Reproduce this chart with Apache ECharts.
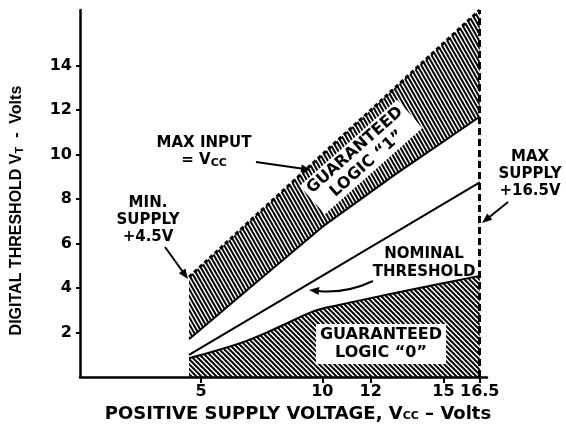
<!DOCTYPE html>
<html>
<head>
<meta charset="utf-8">
<script src="https://cdn.jsdelivr.net/npm/echarts@6/dist/echarts.min.js"></script>
<style>
html, body { margin: 0; padding: 0; background: #fff; }
#chart { width: 566px; height: 428px; }
</style>
</head>
<body>
<div id="chart"></div>
<script>
// guaranteed logic "1" band: lower edge and max input (= Vcc)
const vccPoints = [4.5, 7, 10, 13, 16.5];
const logic1Min = [1.7, 4.0, 6.75, 9.1, 11.7];
const maxInput = [4.5, 7, 10, 13, 16.5];
// guaranteed logic "0" band: upper edge
const logic0Vcc = [4.5, 5.5, 6.7, 7.7, 8.7, 9.4, 9.9, 10.5, 13, 16.5];
const logic0Max = [0.85, 1.15, 1.56, 2.0, 2.5, 2.85, 3.05, 3.2, 3.78, 4.55];
// nominal threshold
const nominalVcc = [4.5, 16.5];
const nominalVt = [1.0, 8.75];
// axes
const xTicks = [5, 10, 12, 15, 16.5];
const yTicks = [2, 4, 6, 8, 10, 12, 14];
const maxSupply = 16.5;

const FONT = '"DejaVu Sans", sans-serif';
const FONT_Y = '"Liberation Sans Narrow", "Liberation Sans", Arial, sans-serif';

function hatch(w, h, lw) {
  const c = document.createElement('canvas');
  c.width = w;
  c.height = h;
  const ctx = c.getContext('2d');
  ctx.strokeStyle = '#000';
  ctx.lineWidth = lw;
  for (let k = -1; k <= 1; k++) {
    ctx.beginPath();
    ctx.moveTo(k * w - w, -h);
    ctx.lineTo(k * w + 2 * w, 2 * h);
    ctx.stroke();
  }
  return c;
}

function zip(xs, ys) {
  return xs.map((x, i) => [x, ys[i]]);
}

function arrowHead(x2, y2, a) {
  const L = 10, W = 4;
  const bx = x2 - L * Math.cos(a), by = y2 - L * Math.sin(a);
  return {
    type: 'polygon', z: 100,
    shape: { points: [[x2, y2], [bx + W * Math.sin(a), by - W * Math.cos(a)], [bx - W * Math.sin(a), by + W * Math.cos(a)]] },
    style: { fill: '#000' }
  };
}

function arrow(x1, y1, x2, y2) {
  const a = Math.atan2(y2 - y1, x2 - x1);
  return [
    { type: 'line', z: 100, shape: { x1: x1, y1: y1, x2: x2 - 8 * Math.cos(a), y2: y2 - 8 * Math.sin(a) }, style: { stroke: '#000', lineWidth: 2 } },
    arrowHead(x2, y2, a)
  ];
}

function label(x, y, text, extra) {
  return {
    type: 'text', x: x, y: y, z: 100,
    style: Object.assign({
      text: text, fill: '#000', font: 'bold 15px ' + FONT,
      align: 'center', verticalAlign: 'middle', lineHeight: 17
    }, extra || {})
  };
}

const subRich = {
  s: { fontFamily: FONT, fontWeight: 'bold', fontSize: 11, color: '#000', padding: [5, 0, 0, 0] }
};

const chart = echarts.init(document.getElementById('chart'));

const graphics = [
  label(148, 220, 'MIN.\nSUPPLY\n+4.5V'),
  label(204, 152, 'MAX INPUT\n= V{s|CC}', { rich: subRich }),
  label(530, 174, 'MAX\nSUPPLY\n+16.5V'),
  label(424, 263, 'NOMINAL\nTHRESHOLD', { lineHeight: 18 }),
  label(381, 344, 'GUARANTEED\nLOGIC \u201C0\u201D', {
    font: 'bold 16px ' + FONT, lineHeight: 18, backgroundColor: '#fff', padding: [2, 4, 2, 4]
  }),
  Object.assign(label(0, 0, 'GUARANTEED\nLOGIC \u201C1\u201D', {
    font: 'bold 16px ' + FONT, lineHeight: 18, backgroundColor: '#fff', padding: [1, 4, 1, 4]
  }), { x: 361, y: 157, rotation: 41.5 * Math.PI / 180 }),
  ...arrow(165, 247, 188, 279),
  ...arrow(256, 162, 311, 170),
  ...arrow(508, 202, 482, 223),
  {
    type: 'bezierCurve', z: 100,
    shape: { x1: 373, y1: 281, cpx1: 345, cpy1: 294, x2: 318, y2: 291 },
    style: { stroke: '#000', lineWidth: 2, fill: null }
  },
  arrowHead(309, 290, Math.atan2(290 - 293, 309 - 340))
];

chart.setOption({
  animation: false,
  backgroundColor: '#fff',
  grid: { left: 80, right: 79, top: 10, bottom: 46 },
  xAxis: {
    type: 'value', min: 0, max: 16.8, z: 10,
    axisLine: { lineStyle: { color: '#000', width: 2.5 } },
    axisTick: { customValues: xTicks, length: 6, lineStyle: { color: '#000', width: 2 } },
    axisLabel: { customValues: xTicks, color: '#000', fontFamily: FONT, fontWeight: 'bold', fontSize: 16, margin: 7 },
    splitLine: { show: false },
    name: 'POSITIVE SUPPLY VOLTAGE, V{s|CC} \u2013 Volts',
    nameLocation: 'middle', nameGap: 24,
    nameTextStyle: { color: '#000', fontFamily: FONT, fontWeight: 'bold', fontSize: 18, padding: [0, 0, 0, 29], rich: subRich }
  },
  yAxis: {
    type: 'value', min: 0, max: 16.5, z: 10,
    axisLine: { lineStyle: { color: '#000', width: 2.5 } },
    axisTick: { customValues: yTicks, length: 4, lineStyle: { color: '#000', width: 2 } },
    axisLabel: { customValues: yTicks, color: '#000', fontFamily: FONT, fontWeight: 'bold', fontSize: 16, margin: 8 },
    splitLine: { show: false },
    name: 'DIGITAL THRESHOLD V{t|T}  -  Volts',
    nameLocation: 'middle', nameGap: 55,
    nameTextStyle: {
      color: '#000', fontFamily: FONT_Y, fontWeight: 'bold', fontSize: 16,
      padding: [0, 34, 0, 0],
      rich: { t: { fontFamily: FONT_Y, fontWeight: 'bold', fontSize: 11, color: '#000', padding: [5, 0, 0, 0] } }
    }
  },
  series: [
    {
      // hatch from max input down, then cleared below the logic "1" minimum
      name: 'Max input', type: 'line', symbol: 'none',
      data: zip(vccPoints, maxInput),
      lineStyle: { color: '#000', width: 3, type: [4, 3] },
      areaStyle: { color: { image: hatch(4, 7, 2), repeat: 'repeat' }, opacity: 1 }
    },
    {
      name: 'Guaranteed logic 1 min', type: 'line', symbol: 'none',
      data: zip(vccPoints, logic1Min),
      lineStyle: { color: '#000', width: 2 },
      areaStyle: { color: '#fff', opacity: 1 }
    },
    {
      name: 'Guaranteed logic 0', type: 'line', symbol: 'none', smooth: 0.3,
      data: zip(logic0Vcc, logic0Max),
      lineStyle: { color: '#000', width: 2 },
      areaStyle: { color: { image: hatch(5, 5, 2), repeat: 'repeat' }, opacity: 1 },
      markLine: {
        silent: true, symbol: 'none', label: { show: false },
        lineStyle: { color: '#000', width: 3, type: [7, 4] },
        data: [{ xAxis: maxSupply }]
      }
    },
    {
      name: 'Nominal threshold', type: 'line', symbol: 'none',
      data: zip(nominalVcc, nominalVt),
      lineStyle: { color: '#000', width: 2 }
    }
  ],
  graphic: graphics
});
</script>
</body>
</html>
